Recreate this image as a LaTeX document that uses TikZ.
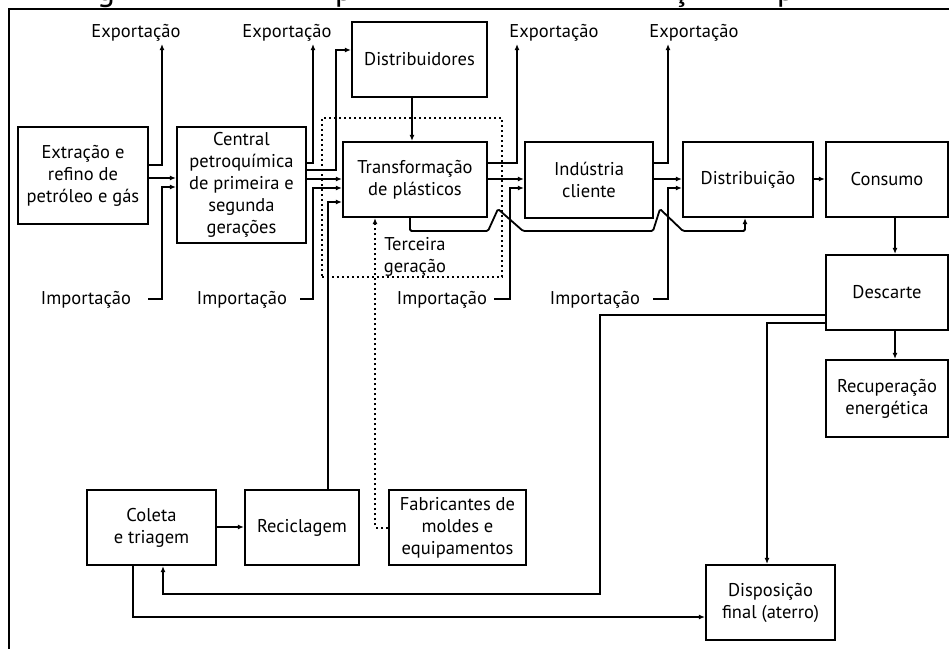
\documentclass[tikz,border=0pt]{standalone}
\usepackage{fontspec}
\setmainfont{PT Sans}
\usetikzlibrary{arrows.meta}
\newcommand\lblfont{\fontsize{18.5}{22}\selectfont}
\newcommand\headfont{\fontsize{34}{34}\selectfont}
\begin{document}
\begin{tikzpicture}[x=1pt,y=-1pt,
  box/.style={draw, line width=2.2pt, align=center, inner sep=0pt, font=\lblfont},
  lbl/.style={inner sep=3pt, font=\lblfont, anchor=base},
  flow/.style={line width=1.8pt, -{Latex[length=6pt,width=5pt]}},
  dots/.style={line width=2pt, dash pattern=on 2pt off 3pt},
]
\useasboundingbox (0,0) rectangle (949,648);
\clip (0,0) rectangle (949,648);

% heading, cut at the top edge
\begin{scope}
  \clip (0,0) rectangle (949,8);
  \node[anchor=base, inner sep=0pt, font=\headfont] (hg) at (106,0) {g};
  \node[anchor=base, inner sep=0pt, font=\headfont] (hp) at (344,0) {p};
  \node[anchor=base, inner sep=0pt, font=\headfont] (hc) at (680,0) {ç};
  \node[anchor=base, inner sep=0pt, font=\headfont] (hq) at (786,0) {p};
\end{scope}

% frame
\draw[line width=2pt] (9,652) -- (9,9) -- (952,9);

% third generation area
\node[draw, dots, minimum width=180, minimum height=159, inner sep=0pt] (gen3) at (412,197.5) {};
\node[font=\lblfont, align=center, inner sep=0pt] (gen3lbl) at (415,257) {Terceira\\geração};

% boxes
\node[box, minimum width=130, minimum height=97] (ext) at (83,175.5) {Extração e\\refino de\\petróleo e gás};
\node[box, minimum width=129, minimum height=116] (cen) at (241.5,185) {Central\\petroquímica\\de primeira e\\segunda\\gerações};
\node[box, minimum width=135, minimum height=75] (dist1) at (419.5,59.5) {Distribuidores};
\node[box, minimum width=144, minimum height=75] (trans) at (415,179.5) {Transformação\\de plásticos};
\node[box, minimum width=128, minimum height=76] (ind) at (589,180) {Indústria\\cliente};
\node[box, minimum width=130, minimum height=75] (distr) at (748,179.5) {Distribuição};
\node[box, minimum width=122, minimum height=75] (cons) at (887,179.5) {Consumo};
\node[box, minimum width=122, minimum height=75] (desc) at (887,292.5) {Descarte};
\node[box, minimum width=122, minimum height=77] (recu) at (887,398.5) {Recuperação\\energética};
\node[box, minimum width=129, minimum height=75] (coleta) at (151.5,527.5) {Coleta\\e triagem};
\node[box, minimum width=114, minimum height=75] (recic) at (302,527.5) {Reciclagem};
\node[box, minimum width=137, minimum height=75] (fab) at (457.5,527.5) {Fabricantes de\\moldes e\\equipamentos};
\node[box, minimum width=129, minimum height=75] (disp) at (770.5,602.5) {Disposição\\final (aterro)};

% trade labels
\node[lbl] (exp1) at (136,37) {Exportação};
\node[lbl] (exp2) at (287,37) {Exportação};
\node[lbl] (exp3) at (554,37) {Exportação};
\node[lbl] (exp4) at (694,37) {Exportação};
\node[lbl] (imp1) at (86,304) {Importação};
\node[lbl] (imp2) at (242,304) {Importação};
\node[lbl] (imp3) at (442,304) {Importação};
\node[lbl] (imp4) at (595,304) {Importação};

% extraction and refining
\draw[flow] (ext.east |- 0,178) -- (cen.west |- 0,178);
\draw[flow] (ext.east |- 0,165) -| (162,0 |- exp1.south);
\draw[flow] ([xshift=14pt]imp1.east) -| (162,187) -- (cen.west |- 0,187);

% petrochemical plant
\draw[flow] (cen.east |- 0,163) -| (313,0 |- exp2.south);
\draw[flow] (cen.east |- 0,170) -| (336,50) -- (dist1.west |- 0,50);
\draw[flow] (cen.east |- 0,179) -- (trans.west |- 0,179);
\draw[flow] ([xshift=10pt]imp2.east) -| (313,188) -- (trans.west |- 0,188);

% inputs to plastics processing
\draw[flow] (recic.north -| 328,0) |- (trans.west |- 0,202);
\draw[flow] (dist1.south -| 412,0) -- (trans.north -| 412,0);
\draw[flow, dots] (fab.west) -| (trans.south -| 375,0);

% plastics processing
\draw[flow] (trans.east |- 0,163) -| (517,0 |- exp3.south);
\draw[flow] (trans.east |- 0,179) -- (ind.west |- 0,179);
\draw[flow] ([xshift=4pt]imp3.east) -| (510,188) -- (ind.west |- 0,188);
\draw[flow, rounded corners=1.5pt] (trans.south -| 410,0) |- (488,231) -- (498,209) -- (523,231)
  -- (653,231) -- (660,209) -- (683,231) -| (distr.south -| 745,0);

% client industry
\draw[flow] (ind.east |- 0,163) -| (668,0 |- exp4.south);
\draw[flow] (ind.east |- 0,179) -- (distr.west |- 0,179);
\draw[flow] ([xshift=10pt]imp4.east) -| (668,188) -- (distr.west |- 0,188);

% consumption and disposal
\draw[flow] (distr.east |- 0,179) -- (cons.west |- 0,179);
\draw[flow] (cons.south -| 895,0) -- (desc.north -| 895,0);
\draw[flow] (desc.south -| 895,0) -- (recu.north -| 895,0);
\draw[flow] (desc.west |- 0,315) -| (600,594) -| (coleta.south -| 163,0);
\draw[flow] (desc.west |- 0,323) -| (disp.north -| 767,0);
\draw[flow] (coleta.south -| 133,0) |- (disp.west |- 0,617);
\draw[flow] (coleta.east |- 0,527) -- (recic.west |- 0,527);
\end{tikzpicture}
\end{document}
